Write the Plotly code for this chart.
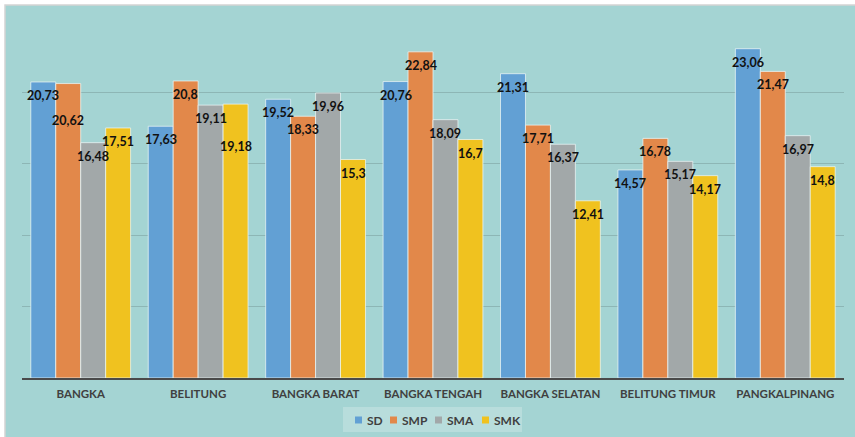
import plotly.graph_objects as go

categories = ["BANGKA", "BELITUNG", "BANGKA BARAT", "BANGKA TENGAH",
              "BANGKA SELATAN", "BELITUNG TIMUR", "PANGKALPINANG"]
series_names = ["SD", "SMP", "SMA", "SMK"]
sd = [20.73, 17.63, 19.52, 20.76, 21.31, 14.57, 23.06]
smp = [20.62, 20.8, 18.33, 22.84, 17.71, 16.78, 21.47]
sma = [16.48, 19.11, 19.96, 18.09, 16.37, 15.17, 16.97]
smk = [17.51, 19.18, 15.3, 16.7, 12.41, 14.17, 14.8]
series_values = [sd, smp, sma, smk]
y_ticks = [0, 5, 10, 15, 20, 25]

colors = ["#62A0D4", "#E2884A", "#A2A8A9", "#F0C21F"]
BG = "#A4D4D3"

# extra downward offsets (px) for labels that were moved to avoid overlap
label_drop = {(1, 0): 23, (3, 1): 29}

def fmt(v):
    return f"{v:g}".replace(".", ",")

L, R, T, B = 22, 11, 21, 59
W, H = 855, 437
pw, ph = W - L - R, H - T - B
BARGAP = 0.15
ncat, nser = len(categories), len(series_names)
bar_px = pw / ncat * (1 - BARGAP) / nser

fig = go.Figure()
annotations = []
for si, (name, vals, col) in enumerate(zip(series_names, series_values, colors)):
    fig.add_trace(go.Bar(
        x=categories, y=vals, name=name,
        marker=dict(color=col, line=dict(color="rgba(235,245,245,0.75)", width=1)),
        showlegend=False, hoverinfo="x+y+name",
    ))
    for ci, (cat, v) in enumerate(zip(categories, vals)):
        annotations.append(dict(
            x=cat, y=v, xref="x", yref="y", text=fmt(v), showarrow=False,
            xanchor="center", yanchor="middle",
            xshift=(si - (nser - 1) / 2) * bar_px,
            yshift=-13.5 - label_drop.get((si, ci), 0),
            font=dict(family="Lato", size=12.5, color="#111111", weight="bold"),
        ))

def px(x):
    return (x - L) / pw

def py(y):
    return (H - B - y) / ph

shapes = [
    dict(type="rect", xref="paper", yref="paper", layer="below",
         x0=px(5), x1=px(860), y0=py(442), y1=py(5),
         fillcolor=BG, line=dict(color="#D4D4D4", width=1.5)),
    dict(type="rect", xref="paper", yref="paper", layer="below",
         x0=px(343), x1=px(522), y0=py(432), y1=py(407),
         fillcolor="rgba(255,255,255,0.22)", line=dict(width=0)),
]
leg_sq = [355, 390, 435, 482]
for name, col, sx in zip(series_names, colors, leg_sq):
    shapes.append(dict(type="rect", xref="paper", yref="paper",
                       x0=px(sx), x1=px(sx + 7), y0=py(423.5), y1=py(416.5),
                       fillcolor=col, line=dict(width=0)))
    annotations.append(dict(xref="paper", yref="paper", x=px(sx + 10), y=py(420),
                            xanchor="left", yanchor="middle", showarrow=False,
                            text=name,
                            font=dict(family="Lato", size=12, color="#404040", weight="bold")))

fig.update_layout(
    width=W, height=H,
    margin=dict(l=L, r=R, t=T, b=B),
    paper_bgcolor="white", plot_bgcolor=BG,
    barmode="group", bargap=BARGAP, bargroupgap=0,
    shapes=shapes, annotations=annotations,
    xaxis=dict(showline=True, linecolor="#4A4A4A", linewidth=2,
               tickfont=dict(family="Lato", size=11.5, color="#404040", weight="bold"),
               ticks="", showgrid=False, ticklabelstandoff=4),
    yaxis=dict(range=[0, 25], tickvals=y_ticks, showticklabels=False,
               showgrid=True, gridcolor="#8DB6B5", gridwidth=1, zeroline=False,
               showline=False),
    font=dict(family="Lato"),
)

fig.write_html("out.html", config={"displayModeBar": False},
               post_script="document.body.style.margin='0';")
